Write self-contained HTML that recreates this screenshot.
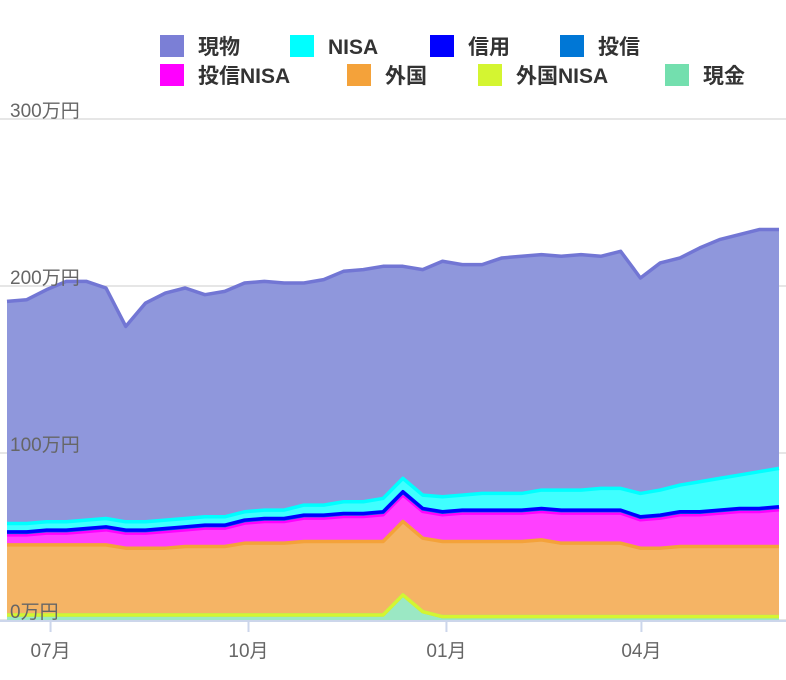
<!DOCTYPE html>
<html><head><meta charset="utf-8"><style>
body{margin:0;background:#fff;}
svg{display:block;font-family:"Liberation Sans","Noto Sans CJK JP",sans-serif;}
</style></head><body>
<svg id="chart" width="786" height="680" viewBox="0 0 786 680" xmlns="http://www.w3.org/2000/svg">
<g id="grid"></g>
<g id="areas"></g>
<g id="axes"></g>
<g id="legend"></g>
</svg>
<script>
const seriesNames = ["現金","外国NISA","外国","投信NISA","投信","信用","NISA","現物"];
const genkin = [3,3,3,3,3,3,3,3,3,3,3,3,3,3,3,3,3,3,3,3,15,5,2,2,2,2,2,2,2,2,2,2,2,2,2,2,2,2,2,2];
const gaikokuNisa = [0,0,0,0,0,0,0,0,0,0,0,0,0,0,0,0,0,0,0,0,0,0,0,0,0,0,0,0,0,0,0,0,0,0,0,0,0,0,0,0];
const gaikoku = [42,42,42,42,42,42,40,40,40,41,41,41,43,43,43,44,44,44,44,44,44,44,45,45,45,45,45,46,44,44,44,44,41,41,42,42,42,42,42,42];
const toushinNisa = [6,6,7,7,8,9,9,9,10,10,11,11,12,13,13,14,14,15,15,16,16,16,16,17,17,17,17,17,18,18,18,18,17,18,19,19,20,21,21,22];
const toushin = [1.5,1.5,1.5,1.5,1.5,1.5,1.5,1.5,1.5,1.5,1.5,1.5,1.5,1.5,1.5,1.5,1.5,1.5,1.5,1.5,1.5,1.5,1.5,1.5,1.5,1.5,1.5,1.5,1.5,1.5,1.5,1.5,1.5,1.5,1.5,1.5,1.5,1.5,1.5,1.5];
const shinyou = [0.3,0.3,0.3,0.3,0.3,0.3,0.3,0.3,0.3,0.3,0.3,0.3,0.3,0.3,0.3,0.3,0.3,0.3,0.3,0.3,0.3,0.3,0.3,0.3,0.3,0.3,0.3,0.3,0.3,0.3,0.3,0.3,0.3,0.3,0.3,0.3,0.3,0.3,0.3,0.3];
const nisa = [5,5,5,5,5,5,5,5,5,5,5,5,5,5,5,6,6,7,7,8,8,8,9,9,10,10,10,11,12,12,13,13,14,15,16,18,19,20,22,23];
const genbutsu = [133,134,139,144,143,138,117,131,136,138,133,135,137,137,136,133,135,138,139,139,127,135,141,138,137,141,142,141,140,141,139,142,129,136,136,140,143,144,145,143];
const yTicks = [0,100,200,300];
const yTickLabels = ["0万円","100万円","200万円","300万円"];
const xTickIdx = [2.2,12.2,22.2,32.05];
const xTickLabels = ["07月","10月","01月","04月"];

const NS="http://www.w3.org/2000/svg";
const X0=7,X1=779,Y0=620,Y300=119;
const n=genbutsu.length;
const xs=i=>X0+i*(X1-X0)/(n-1);
const ys=v=>Y0-v*(Y0-Y300)/300;
function mk(tag,attrs,parent){const e=document.createElementNS(NS,tag);for(const k in attrs)e.setAttribute(k,attrs[k]);parent.appendChild(e);return e;}

const grid=document.getElementById('grid');
yTicks.forEach((t,k)=>{
  const l=mk('line',{x1:0,x2:786,y1:ys(t),y2:ys(t),stroke:'#dddddd','stroke-width':1.5},grid);
  
  
});

const layers=[genkin,gaikokuNisa,gaikoku,toushinNisa,toushin,shinyou,nisa,genbutsu];
const lineCols=["#73dfae","#d4f531","#f4a23a","#ff00ff","#0077d6","#0000ff","#00ffff","#7276d4"];
const fillCols=["#9be8c4","#dff86a","#f5b465","#ff40ff","#2b8ede","#3b3bff","#40ffff","#8f97dc"];
const layerNames=["genkin-area","gaikoku-nisa-area","gaikoku-area","toushin-nisa-area","toushin-area","shinyou-area","nisa-area","genbutsu-area"];
const areas=document.getElementById('areas');
let base=new Array(n).fill(0);
const tops=[];
layers.forEach((arr,li)=>{
  const top=base.map((b,i)=>b+arr[i]);
  let d='M'+xs(0)+','+ys(top[0]);
  for(let i=1;i<n;i++)d+=' L'+xs(i)+','+ys(top[i]);
  for(let i=n-1;i>=0;i--)d+=' L'+xs(i)+','+ys(base[i]);
  d+=' Z';
  const p=mk('path',{d:d,fill:fillCols[li],stroke:'none'},areas);
  
  
  tops.push(top);
  base=top;
});
tops.forEach((top,li)=>{
  let d='M'+xs(0)+','+ys(top[0]);
  for(let i=1;i<n;i++)d+=' L'+xs(i)+','+ys(top[i]);
  const p=mk('path',{d:d,fill:'none',stroke:lineCols[li],'stroke-width':3.5,'stroke-linejoin':'round'},areas);
  
  
});

const axes=document.getElementById('axes');
const ax=mk('line',{x1:0,x2:786,y1:Y0+1,y2:Y0+1,stroke:'#ccd6eb','stroke-width':2},axes);


yTicks.forEach((t,k)=>{
  const tx=mk('text',{x:10,y:ys(t)-2,'font-size':19,fill:'#666666'},axes);
  tx.textContent=yTickLabels[k];
  
  
});
xTickIdx.forEach((t,k)=>{
  const x=xs(t);
  const tk=mk('line',{x1:x,x2:x,y1:Y0+2,y2:Y0+12,stroke:'#ccd6eb','stroke-width':2},axes);
  
  
  const tx=mk('text',{x:x,y:657,'font-size':19,fill:'#666666','text-anchor':'middle'},axes);
  tx.textContent=xTickLabels[k];
  
  
});

const legend=document.getElementById('legend');
const legOrder=[7,6,5,4,3,2,1,0];
const legPos=[[160,35],[290,35],[430,35],[560,35],[160,64],[347,64],[478,64],[665,64]];
const legLabels=["現物","NISA","信用","投信","投信NISA","外国","外国NISA","現金"];
legOrder.forEach((li,k)=>{
  const g=mk('g',{},legend);
  
  
  const [x,y]=legPos[k];
  mk('rect',{x:x,y:y,width:24,height:22,fill:k==0?'#7b7fd6':lineCols[li]},g);
  const t=mk('text',{x:x+38,y:y+19,'font-size':21,'font-weight':'bold',fill:'#333333'},g);
  t.textContent=legLabels[k];
});
</script>
</body></html>
